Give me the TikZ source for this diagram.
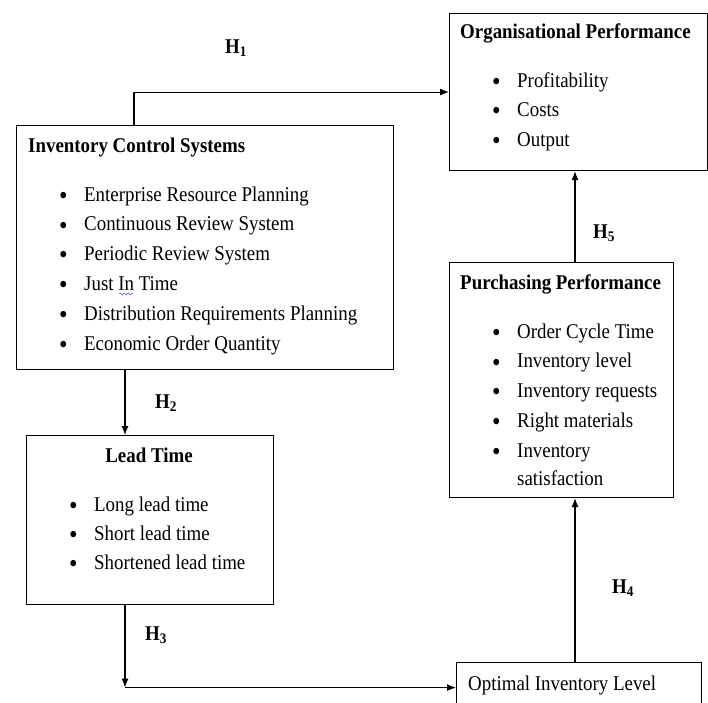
\documentclass[tikz,border=0pt]{standalone}
\usepackage{fontspec}
\setmainfont[FakeStretch=0.9]{Liberation Serif}
\usetikzlibrary{arrows.meta, positioning, decorations.pathmorphing}

\tikzset{
	box/.style = {draw, line width=1.1pt, inner sep=0pt, anchor=north west},
	item/.style = {anchor=base west, inner sep=0pt, font=\fontsize{21}{24}\selectfont},
	head/.style = {item, font=\fontsize{21}{24}\selectfont\bfseries},
	link/.style = {line width=1.1pt, -{Latex[length=9pt, width=7pt]}}
}
\newcommand{\bul}[1]{\makebox[25pt][l]{\raisebox{-3.2pt}{\fontsize{27}{27}\selectfont\textbullet}}#1}

\begin{document}
\begin{tikzpicture}[x=1pt, y=-1pt]
	%frame
	\clip (0,0) rectangle (708,702);
	\fill[white] (0,0) rectangle (708,702);

	%boxes
	\node[box, minimum width=258pt, minimum height=157pt] (op) at (449,13) {};
	\node[box, minimum width=377pt, minimum height=244pt] (ics) at (16,125) {};
	\node[box, minimum width=224pt, minimum height=235pt] (pp) at (449,262) {};
	\node[box, minimum width=247pt, minimum height=169pt] (lt) at (26,435) {};
	\node[box, minimum width=245pt, minimum height=50pt] (oil) at (456,662) {};

	%arrow columns
	\coordinate (c1) at (134,0);
	\coordinate (c2) at (125,0);
	\coordinate (c5) at (575,0);

	%arrows
	\draw[link] (c1 |- ics.north) |- (op.west);
	\draw[link] (c5 |- pp.north) -- (c5 |- op.south);
	\draw[link] (c2 |- ics.south) -- (c2 |- lt.north);
	\draw[link] (c2 |- lt.south) -- (c2 |- oil.west);
	\draw[link] (c2 |- oil.west) -- (oil.west);
	\draw[link] (c5 |- oil.north) -- (c5 |- pp.south);

	%hypotheses
	\node[head] (h1) at (225,53) {H\textsubscript{1}};
	\node[head] (h2) at (155,408) {H\textsubscript{2}};
	\node[head] (h3) at (145,640) {H\textsubscript{3}};
	\node[head] (h4) at (612,593) {H\textsubscript{4}};
	\node[head] (h5) at (593,238) {H\textsubscript{5}};

	%organisational performance
	\node[head] (op-t) at (460,38) {Organisational Performance};
	\foreach \t [count=\i] in {Profitability, Costs, Output}
		\node[item] (op-\i) at (492,{87+29.5*(\i-1)}) {\bul{\t}};

	%inventory control systems
	\node[head] (ics-t) at (28,152) {Inventory Control Systems};
	\foreach \t [count=\i] in {Enterprise Resource Planning, Continuous Review System, Periodic Review System, Just In Time, Distribution Requirements Planning, Economic Order Quantity}
		\node[item] (ics-\i) at (59,{201+29.8*(\i-1)}) {\bul{\t}};
	\draw[blue!70, thin, decorate, decoration={snake, amplitude=1pt, segment length=4pt}] (119,294) -- (134,294);

	%purchasing performance
	\node[head] (pp-t) at (460,289) {Purchasing Performance};
	\foreach \t [count=\i] in {Order Cycle Time, Inventory level, Inventory requests, Right materials, Inventory}
		\node[item] (pp-\i) at (492,{338+29.8*(\i-1)}) {\bul{\t}};
	\node[item] (pp-6) at (517,485) {satisfaction};

	%lead time
	\node[head, anchor=base] (lt-t) at (149,462) {Lead Time};
	\foreach \t [count=\i] in {Long lead time, Short lead time, Shortened lead time}
		\node[item] (lt-\i) at (69,{511+29*(\i-1)}) {\bul{\t}};

	%optimal inventory level
	\node[item] (oil-t) at (468,690) {Optimal Inventory Level};
\end{tikzpicture}
\end{document}
